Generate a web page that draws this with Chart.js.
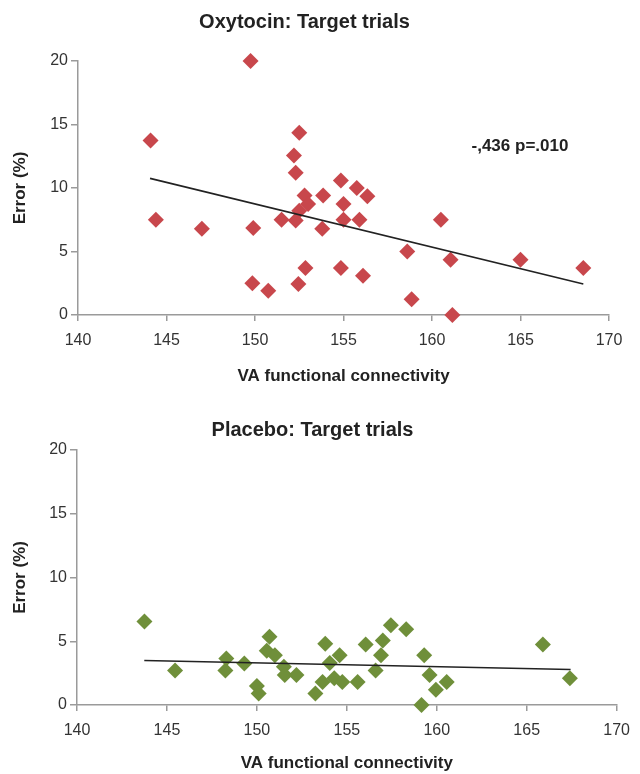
<!DOCTYPE html>
<html>
<head>
<meta charset="utf-8">
<script src="https://cdn.jsdelivr.net/npm/chart.js@4.4.1/dist/chart.umd.min.js"></script>
<style>
  html, body { margin: 0; padding: 0; background: #fff; }
  #wrap { position: relative; width: 640px; height: 774px; }
  canvas { position: absolute; left: 0; }
</style>
</head>
<body>
<div id="wrap">
  <canvas id="oxy-chart" width="640" height="390" style="top:0"></canvas>
  <canvas id="pla-chart" width="640" height="384" style="top:390px"></canvas>
</div>
<script>
// Oxytocin: VA functional connectivity vs. error (%)
const oxyX = [144.1, 144.4, 147.0, 149.75, 149.9, 149.85, 150.75, 151.5, 152.2, 152.3, 152.5, 152.3,
              152.8, 152.5, 153.0, 152.45, 152.85, 153.85, 153.8, 154.85, 155.0, 155.0, 154.85, 155.75,
              156.35, 155.9, 156.1, 160.5, 158.6, 158.85, 161.05, 161.15, 165.0, 168.55];
const oxyY = [13.75, 7.5, 6.8, 20, 6.85, 2.5, 1.9, 7.5, 12.55, 11.2, 14.35, 7.45,
              9.4, 8.2, 8.75, 2.45, 3.7, 9.4, 6.8, 10.6, 8.75, 7.5, 3.7, 10.0,
              9.35, 7.5, 3.1, 7.5, 5.0, 1.25, 4.35, 0, 4.35, 3.7];
const oxyFitX = [144.07, 168.55];
const oxyFitY = [10.76, 2.44];

// Placebo
const plaX = [143.75, 145.45, 148.3, 148.25, 149.3, 150.0, 150.1, 150.7, 150.55, 151.0, 151.5, 151.55,
              152.2, 153.25, 153.8, 154.05, 154.6, 153.65, 154.3, 154.75, 155.6, 156.05, 156.6, 156.9,
              157.0, 157.45, 158.3, 159.3, 159.6, 159.95, 160.55, 159.15, 165.9, 167.4];
const plaY = [6.55, 2.7, 3.65, 2.7, 3.25, 1.5, 0.9, 5.35, 4.25, 3.9, 3.0, 2.35,
              2.35, 0.9, 4.8, 3.3, 3.9, 1.8, 2.1, 1.8, 1.8, 4.75, 2.7, 3.9,
              5.05, 6.25, 5.95, 3.9, 2.35, 1.2, 1.8, 0, 4.75, 2.1];
const plaFitX = [143.74, 167.44];
const plaFitY = [3.49, 2.78];

const xTicks = [140, 145, 150, 155, 160, 165, 170];
const yTicks = [0, 5, 10, 15, 20];

const FONT = "'Liberation Sans', Arial, Helvetica, sans-serif";
const AXIS_GREY = '#9a9a9a';

function toPoints(xs, ys) {
    return xs.map((x, i) => ({ x: x, y: ys[i] }));
}

// writes the correlation note at a data position
const corrNote = {
    id: 'corrNote',
    afterDatasetsDraw(chart, args, opts) {
        if (!opts.text) return;
        const ctx = chart.ctx;
        const px = chart.scales.x.getPixelForValue(opts.x);
        const py = chart.scales.y.getPixelForValue(opts.y);
        ctx.save();
        ctx.font = 'bold 17px ' + FONT;
        ctx.fillStyle = '#222';
        ctx.textAlign = 'center';
        ctx.textBaseline = 'middle';
        ctx.fillText(opts.text, px, py);
        ctx.restore();
    }
};

function makeChart(id, cfg) {
    const ctx = document.getElementById(id).getContext('2d');
    const canvasH = document.getElementById(id).height;
    return new Chart(ctx, {
        type: 'scatter',
        data: {
            datasets: [
                {
                    data: toPoints(cfg.fitX, cfg.fitY),
                    showLine: true,
                    pointRadius: 0,
                    borderColor: '#222',
                    borderWidth: 1.6,
                    clip: false
                },
                {
                    data: toPoints(cfg.xs, cfg.ys),
                    pointStyle: 'rectRot',
                    pointRadius: 8,
                    pointHoverRadius: 8,
                    backgroundColor: cfg.color,
                    borderWidth: 0,
                    clip: false
                }
            ]
        },
        options: {
            responsive: false,
            animation: false,
            layout: { padding: { left: 0, right: cfg.padRight, top: 0, bottom: 0 } },
            plugins: {
                legend: { display: false },
                tooltip: { enabled: false },
                title: {
                    display: true,
                    text: cfg.title,
                    color: '#222',
                    font: { family: FONT, size: 20, weight: 'bold' },
                    padding: { top: cfg.titleTop, bottom: cfg.titleBottom }
                },
                corrNote: cfg.note || {}
            },
            scales: {
                x: {
                    type: 'linear',
                    min: 140,
                    max: 170,
                    afterBuildTicks: (scale) => { scale.ticks = xTicks.map(v => ({ value: v })); },
                    afterFit: (scale) => { scale.height = canvasH - cfg.bottom; },
                    border: { color: AXIS_GREY, width: 1.5 },
                    grid: { drawOnChartArea: false, drawTicks: true, tickLength: 6, color: AXIS_GREY, lineWidth: 1.5 },
                    ticks: { color: '#333', padding: 10, font: { family: FONT, size: 16 } },
                    title: {
                        display: true,
                        text: 'VA functional connectivity',
                        color: '#222',
                        font: { family: FONT, size: 17, weight: 'bold' },
                        padding: { top: 0, bottom: cfg.xTitleBottom }
                    }
                },
                y: {
                    min: 0,
                    max: 20,
                    afterBuildTicks: (scale) => { scale.ticks = yTicks.map(v => ({ value: v })); },
                    afterFit: (scale) => { scale.width = cfg.left; },
                    border: { color: AXIS_GREY, width: 1.5 },
                    grid: { drawOnChartArea: false, drawTicks: true, tickLength: 7, color: AXIS_GREY, lineWidth: 1.5 },
                    ticks: { color: '#333', padding: 3, font: { family: FONT, size: 16 } },
                    title: {
                        display: true,
                        text: 'Error (%)',
                        color: '#222',
                        font: { family: FONT, size: 17, weight: 'bold' },
                        padding: { top: 10, bottom: 0 }
                    }
                }
            }
        },
        plugins: [corrNote]
    });
}

makeChart('oxy-chart', {
    title: 'Oxytocin: Target trials',
    xs: oxyX, ys: oxyY, fitX: oxyFitX, fitY: oxyFitY,
    color: '#c8474c',
    left: 78, padRight: 31, bottom: 315,
    titleTop: 10, titleBottom: 27,
    xTitleBottom: 3,
    note: { text: '-,436 p=.010', x: 164.97, y: 13.25 }
});

makeChart('pla-chart', {
    title: 'Placebo: Target trials',
    xs: plaX, ys: plaY, fitX: plaFitX, fitY: plaFitY,
    color: '#6f8f3a',
    left: 77, padRight: 15, bottom: 315,
    titleTop: 28, titleBottom: 8,
    xTitleBottom: 0
});
</script>
</body>
</html>
